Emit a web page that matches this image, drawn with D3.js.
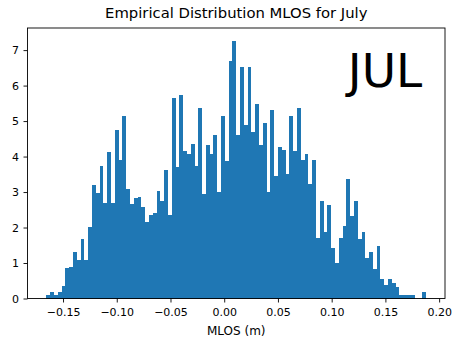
<!DOCTYPE html>
<html>
<head>
<meta charset="utf-8">
<script src="https://cdn.jsdelivr.net/npm/d3@7"></script>
<style>
  html, body { margin: 0; padding: 0; background: #fff; }
  svg { display: block; font-family: "DejaVu Sans", sans-serif; }
</style>
</head>
<body>
<svg id="chart" width="454" height="341"></svg>
<script>
// ---- data ----
const title = "Empirical Distribution MLOS for July";
const xLabel = "MLOS (m)";
const annotation = "JUL";
const dataMin = -0.1654;
const dataMax = 0.1878;
const density = [
  0.085, 0.17, 0.085, 0.17, 0.36, 0.86, 0.89, 1.31, 1.09, 1.67,
  1.09, 2.01, 3.21, 2.98, 3.74, 2.69, 4.14, 2.69, 4.75, 3.91,
  5.13, 3.09, 2.65, 2.83, 2.86, 2.58, 2.16, 2.34, 2.40, 3.03,
  2.76, 3.63, 2.34, 5.66, 3.70, 5.73, 4.17, 4.07, 4.35, 3.74,
  5.38, 2.94, 4.33, 4.07, 4.61, 3.00, 5.14, 3.88, 6.70, 7.26,
  4.61, 6.53, 4.89, 6.53, 4.68, 5.47, 4.33, 4.95, 3.00, 5.31,
  3.46, 4.27, 4.18, 3.51, 5.14, 4.15, 5.38, 3.91, 4.07, 3.22,
  3.91, 1.70, 2.75, 1.88, 2.64, 1.43, 1.00, 1.70, 2.05, 3.38,
  2.33, 2.75, 1.67, 1.88, 1.14, 1.31, 0.84, 1.49, 0.56, 0.38,
  0.55, 0.44, 0.31, 0.085, 0.085, 0.085, 0.085, 0, 0, 0.17
];
const xTicks = [-0.15, -0.10, -0.05, 0.00, 0.05, 0.10, 0.15, 0.20];
const yTicks = [0, 1, 2, 3, 4, 5, 6, 7];

// ---- layout ----
const L = 27.5, R = 445, T = 28, B = 298.5;
const svg = d3.select("#chart");
const nBins = density.length;
const range = dataMax - dataMin;
const binW = range / nBins;
const bins = density.map((v, i) => ({ x0: dataMin + i * binW, x1: dataMin + (i + 1) * binW, v }));

const x = d3.scaleLinear()
  .domain([dataMin - 0.05 * range, dataMax + 0.05 * range])
  .range([L, R]);
const y = d3.scaleLinear()
  .domain([0, d3.max(density) * 1.05])
  .range([B, T]);

// bars
svg.append("g")
  .selectAll("rect")
  .data(bins)
  .join("rect")
  .attr("x", d => x(d.x0))
  .attr("width", d => x(d.x1) - x(d.x0))
  .attr("y", d => y(d.v))
  .attr("height", d => B - y(d.v))
  .attr("fill", "#1f77b4")
  .attr("shape-rendering", "crispEdges");

// axes
const fmtX = d => d3.format(".2f")(d).replace("-", "\u2212");
const xAxis = svg.append("g")
  .attr("transform", `translate(0,${B})`)
  .call(d3.axisBottom(x).tickValues(xTicks).tickFormat(fmtX).tickSize(4).tickPadding(5.5));
const yAxis = svg.append("g")
  .attr("transform", `translate(${L},0)`)
  .call(d3.axisLeft(y).tickValues(yTicks).tickFormat(d3.format("d")).tickSize(4).tickPadding(4.5));

[xAxis, yAxis].forEach(g => {
  g.select(".domain").remove();
  g.selectAll("line").attr("stroke", "#000").attr("stroke-width", 0.9);
  g.selectAll("text").attr("fill", "#000").attr("font-size", "11px")
    .attr("font-family", "DejaVu Sans, sans-serif");
});

// frame
svg.append("rect")
  .attr("x", L).attr("y", T)
  .attr("width", R - L).attr("height", B - T)
  .attr("fill", "none").attr("stroke", "#000").attr("stroke-width", 0.9);

// title
svg.append("text")
  .attr("x", (L + R) / 2).attr("y", 18)
  .attr("text-anchor", "middle")
  .attr("font-size", "14.8px")
  .attr("fill", "#000")
  .text(title);

// x label
svg.append("text")
  .attr("x", (L + R) / 2).attr("y", 335)
  .attr("text-anchor", "middle")
  .attr("font-size", "12px")
  .attr("fill", "#000")
  .text(xLabel);

// annotation
svg.append("text")
  .attr("x", x(0.115)).attr("y", 87)
  .attr("font-size", "47px")
  .attr("fill", "#000")
  .text(annotation);
</script>
</body>
</html>
